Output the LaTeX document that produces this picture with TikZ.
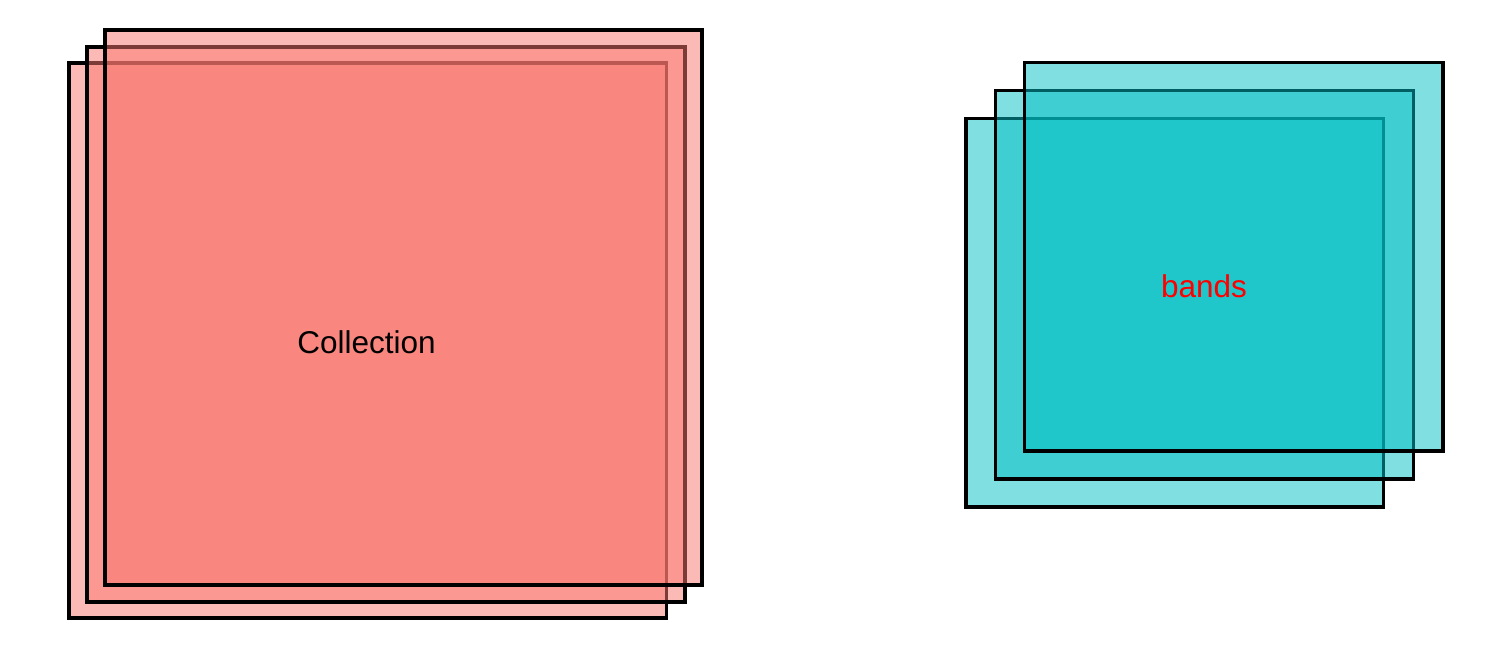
\documentclass[tikz,border=0pt]{standalone}
\usepackage{fontspec}
\setmainfont{Liberation Sans}
\definecolor{salmon}{HTML}{F8766D}
\definecolor{teal}{HTML}{00BFC4}
\begin{document}
\begin{tikzpicture}[x=1pt,y=-1pt,
  layer/.style={draw=black,line width=3.2pt,fill opacity=0.5},
  lbl/.style={font=\fontsize{31.5}{36}\selectfont,anchor=base,inner sep=0pt}]
\useasboundingbox (0,0) rectangle (1512,648);
% left stack
\path[layer,fill=salmon] (69,63) rectangle (666.5,618);
\path[layer,fill=salmon] (87,47) rectangle (685,602);
\path[layer,fill=salmon] (105,30) rectangle (702,585);
\node[lbl,text=black] (coll) at (366.5,353) {Collection};
% right stack
\path[layer,fill=teal] (966,118.5) rectangle (1383.5,507);
\path[layer,fill=teal] (995.5,90.5) rectangle (1413.5,479);
\path[layer,fill=teal] (1024.5,62.5) rectangle (1443,451);
\node[lbl,text=red] (bands) at (1204,297) {bands};
\end{tikzpicture}
\end{document}
